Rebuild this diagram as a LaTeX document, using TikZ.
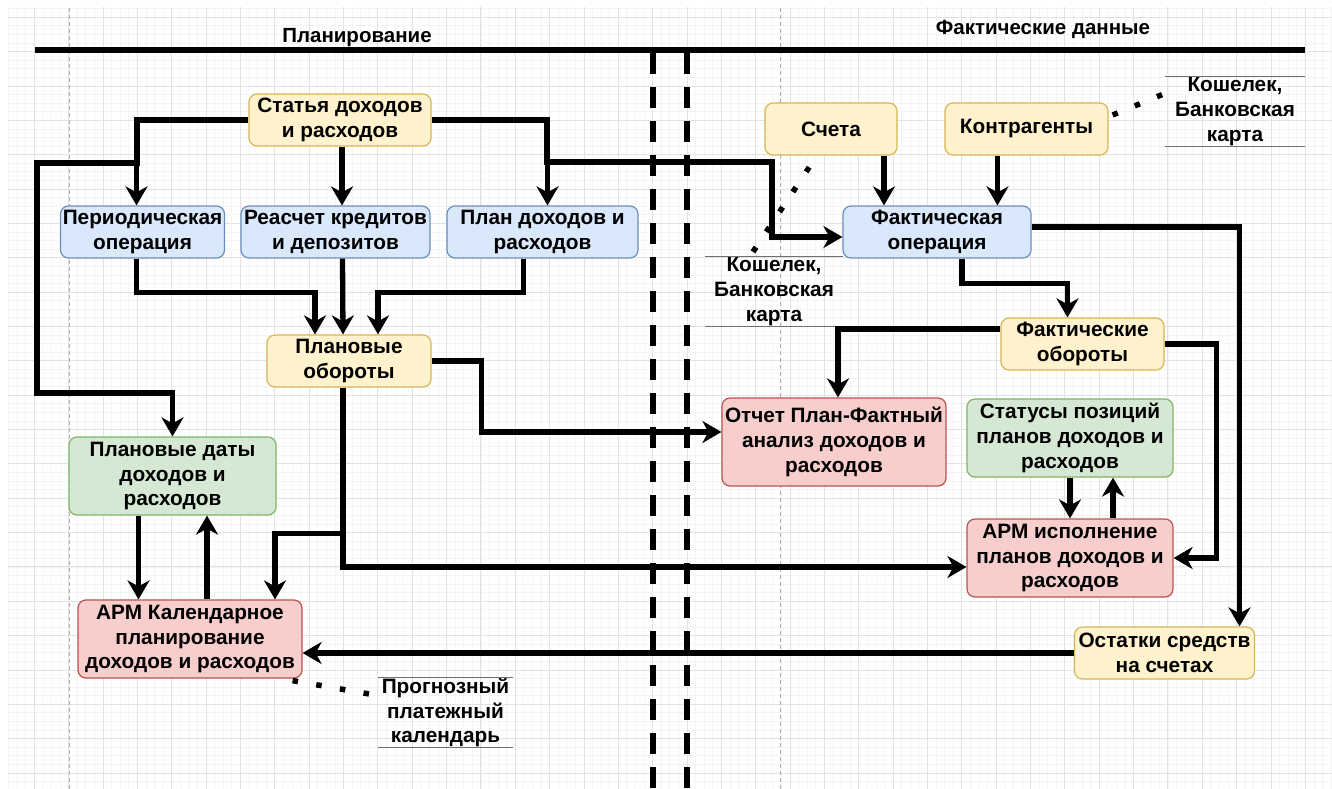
\documentclass[tikz,border=0pt]{standalone}
\usepackage{fontspec}
\setmainfont{Liberation Sans}
\usetikzlibrary{arrows.meta,calc}
\definecolor{yfill}{HTML}{FFF2CC}\definecolor{ydraw}{HTML}{D6B656}
\definecolor{bfill}{HTML}{DAE8FC}\definecolor{bdraw}{HTML}{6C8EBF}
\definecolor{gfill}{HTML}{D5E8D4}\definecolor{gdraw}{HTML}{82B366}
\definecolor{rfill}{HTML}{F8CECC}\definecolor{rdraw}{HTML}{B85450}
\definecolor{gridminor}{HTML}{F4F4F4}\definecolor{gridmajor}{HTML}{E2E2E2}
\definecolor{pageline}{HTML}{B0B0B0}\definecolor{annoline}{HTML}{707070}
\begin{document}
\begin{tikzpicture}[x=1pt,y=-1pt,
  box/.style={rounded corners=8pt, line width=1.2pt, inner sep=0pt, align=center,
    font=\fontsize{20.8}{24.8}\selectfont\bfseries},
  yel/.style={fill=yfill, draw=ydraw},
  blu/.style={fill=bfill, draw=bdraw},
  grn/.style={fill=gfill, draw=gdraw},
  red/.style={fill=rfill, draw=rdraw},
  anno/.style={inner sep=0pt, align=center, font=\fontsize{20.8}{24.8}\selectfont\bfseries},
  annoln/.style={draw=annoline, line width=1.3pt},
  hdr/.style={inner sep=0pt, font=\fontsize{20.5}{24}\selectfont\bfseries},
  arr/.style={line width=5.3pt, -{Stealth[length=19pt,width=22pt,inset=6pt]}},
  dotln/.style={line width=5.5pt, dash pattern=on 5.5pt off 18.5pt},
  sepline/.style={line width=5.5pt, dash pattern=on 21pt off 13pt},
  pagedash/.style={draw=pageline, line width=0.8pt, dash pattern=on 4pt off 3pt}
]
\useasboundingbox (0,0) rectangle (1332,789);
\fill[white] (0,0) rectangle (1332,789);
% grid
\begin{scope}
\clip (8,8) rectangle (1332,789);
\foreach \i in {0,...,156} {\draw[gridminor, line width=0.8pt] ({\i*8.5875},0) -- ({\i*8.5875},789);}
\foreach \i in {-2,...,92} {\draw[gridminor, line width=0.8pt] (0,{17.3+\i*8.5875}) -- (1332,{17.3+\i*8.5875});}
\foreach \i in {0,...,39} {\draw[gridmajor, line width=0.9pt] ({\i*34.35},0) -- ({\i*34.35},789);}
\foreach \i in {0,...,23} {\draw[gridmajor, line width=0.9pt] (0,{17.3+\i*34.35}) -- (1332,{17.3+\i*34.35});}
\end{scope}
\draw[pagedash] (69,8) -- (69,789);
\draw[pagedash] (780,8) -- (780,789);

% headers and separators
\draw[line width=6pt] (35,50) -- (1305,50);
\node[hdr] (h1) at (357,38) {Планирование};
\node[hdr] (h2) at (1043,29) {Фактические данные};
\draw[sepline] (653,53) -- (653,789);
\draw[sepline] (687,53) -- (687,789);

% nodes
\node[box,yel,minimum width=182,minimum height=52] (stat) at (340,120) {Статья доходов\\и расходов};
\node[box,blu,minimum width=164,minimum height=52] (per) at (142.5,232) {Периодическая\\операция};
\node[box,blu,minimum width=189,minimum height=52] (reas) at (335.5,232) {Реасчет кредитов\\и депозитов};
\node[box,blu,minimum width=191,minimum height=52] (plan) at (542.5,232) {План доходов и\\расходов};
\node[box,yel,minimum width=164,minimum height=52] (pobor) at (349,361) {Плановые\\обороты};
\node[box,grn,minimum width=207,minimum height=78] (pdates) at (172.5,476) {Плановые даты\\доходов и\\расходов};
\node[box,red,minimum width=224,minimum height=78] (armk) at (190,639) {АРМ Календарное\\планирование\\доходов и расходов};
\node[box,yel,minimum width=132,minimum height=52] (scheta) at (831,129) {Счета};
\node[box,yel,minimum width=163,minimum height=52] (kontr) at (1026.5,129) {Контрагенты};
\node[box,blu,minimum width=188,minimum height=52] (fop) at (937,232) {Фактическая\\операция};
\node[box,yel,minimum width=163,minimum height=52] (fobor) at (1082.5,344) {Фактические\\обороты};
\node[box,red,minimum width=224,minimum height=88] (otchet) at (834,442) {Отчет План-Фактный\\анализ доходов и\\расходов};
\node[box,grn,minimum width=206,minimum height=78] (status) at (1070,438) {Статусы позиций\\планов доходов и\\расходов};
\node[box,red,minimum width=206,minimum height=78] (armi) at (1070,558) {АРМ исполнение\\планов доходов и\\расходов};
\node[box,yel,minimum width=180,minimum height=52] (ost) at (1164.5,653) {Остатки средств\\на счетах};

% annotations
\node[anno,minimum width=140,minimum height=69] (annA) at (1235,111.5) {Кошелек,\\Банковская\\карта};
\node[anno,minimum width=138,minimum height=69] (annB) at (774,291.5) {Кошелек,\\Банковская\\карта};
\node[anno,minimum width=135,minimum height=69] (annC) at (445.5,712.5) {Прогнозный\\платежный\\календарь};
\foreach \a in {annA,annB,annC} {
  \draw[annoln] (\a.north west) -- (\a.north east);
  \draw[annoln] (\a.south west) -- (\a.south east);
}
\draw[dotln] ([xshift=4,yshift=14]kontr.east) -- ([yshift=18]annA.west);
\draw[dotln] ([xshift=-21,yshift=5]annB.north) -- ([xshift=-18,yshift=-6]scheta.south);
\draw[dotln] ([xshift=-10,yshift=-2]armk.south east) -- ([yshift=17]annC.west);

% connectors
\draw[arr] (stat.west) -| ([xshift=-6]per.north);
\draw[arr] (stat.west) -| (137,163) -- (37,163) -- (37,393) -| (pdates.north);
\draw[arr] ([xshift=2]stat.south) -- ([xshift=2]stat.south |- reas.north);
\draw[arr] (stat.east) -| ([xshift=5]plan.north);
\draw[arr] (stat.east) -| (547,162) -- (772,162) |- ([yshift=-5]fop.west);
\draw[arr] ([xshift=-6]per.south) -- ++(0,34) -| ([xshift=-34]pobor.north);
\draw[arr] ([xshift=7]reas.south) -- ([xshift=-6]pobor.north);
\draw[arr] ([xshift=-19]plan.south) -- ++(0,34) -| ([xshift=29]pobor.north);
\draw[arr] (pobor.east) -- ++(50,0) |- ([yshift=10]otchet.west);
\draw[arr] ([xshift=-6]pobor.south) |- ([yshift=-9]armi.west);
\draw[arr] ([xshift=-6]pobor.south) -- ++(0,146) -| ([xshift=85]armk.north);
\draw[arr] ([xshift=-34]pdates.south) -- ([xshift=-34]pdates.south |- armk.north);
\draw[arr] ([xshift=17]armk.north) -- ([xshift=17]armk.north |- pdates.south);
\draw[arr] ([xshift=53]scheta.south) -- ([xshift=53]scheta.south |- fop.north);
\draw[arr] ([xshift=-29]kontr.south) -- ([xshift=-29]kontr.south |- fop.north);
\draw[arr] ([yshift=5]fop.east) -| ([xshift=75]ost.north);
\draw[arr] ([xshift=25]fop.south) -- ++(0,25) -| ([xshift=-15]fobor.north);
\draw[arr] ([yshift=15]fobor.west) -| ([xshift=4]otchet.north);
\draw[arr] (fobor.east) -- ++(52,0) |- (armi.east);
\draw[arr] (status.south) -- (armi.north);
\draw[arr] ([xshift=43]armi.north) -- ([xshift=43]armi.north |- status.south);
\draw[arr] (ost.west) -- (ost.west -| armk.east);
\end{tikzpicture}
\end{document}
